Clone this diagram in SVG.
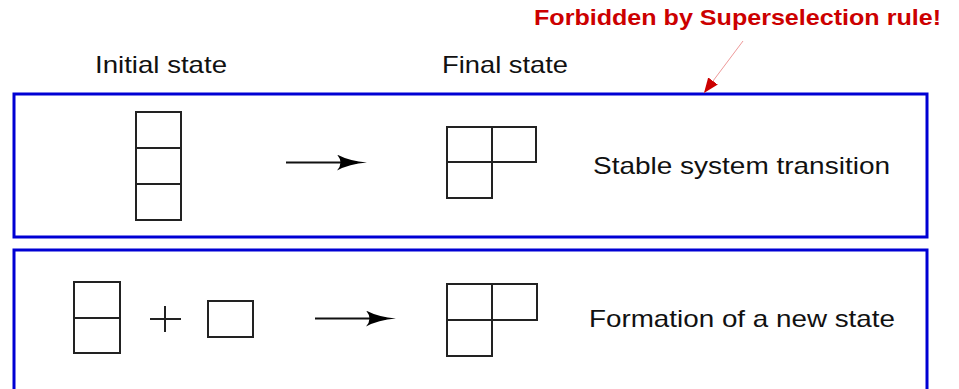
<svg xmlns="http://www.w3.org/2000/svg" width="959" height="389" viewBox="0 0 959 389">
  <style>
    .panel { fill: none; stroke: #0000d4; stroke-width: 3; }
    .cell { fill: none; stroke: #222; stroke-width: 2; }
    .label { font-family: "Liberation Sans", Arial, sans-serif; font-size: 24px; fill: #111; }
    .note { font-family: "Liberation Sans", Arial, sans-serif; font-size: 22px; font-weight: bold; fill: #cc0000; }
    .flow { stroke: #111; stroke-width: 2; fill: none; }
    .pointer { stroke: #e99; stroke-width: 1; fill: none; }
  </style>
  <defs>
    <marker id="stealth" viewBox="0 0 30 16" refX="20" refY="8" markerWidth="30" markerHeight="16" markerUnits="userSpaceOnUse" orient="auto">
      <path d="M0,0 Q12,6.5 30,8 Q12,9.5 0,16 Q7,8 0,0 Z" fill="#000"/>
    </marker>
    <marker id="redhead" viewBox="0 0 15 12" refX="15" refY="6" markerWidth="15" markerHeight="12" markerUnits="userSpaceOnUse" orient="auto">
      <path d="M0,0 L15,6 L0,12 Z" fill="#cc0000"/>
    </marker>
  </defs>

  <!-- column headings -->
  <text class="label" x="95" y="73" textLength="132" lengthAdjust="spacingAndGlyphs">Initial state</text>
  <text class="label" x="442" y="73" textLength="126" lengthAdjust="spacingAndGlyphs">Final state</text>
  <text class="note" x="534" y="25" textLength="407" lengthAdjust="spacingAndGlyphs">Forbidden by Superselection rule!</text>

  <!-- upper panel: stable system -->
  <g id="panel-stable">
    <rect class="panel" x="14" y="94" width="913" height="143"/>
    <text class="label" x="593" y="174" textLength="297" lengthAdjust="spacingAndGlyphs">Stable system transition</text>
  </g>
  <g id="stable-initial">
    <rect class="cell" x="136" y="112" width="45" height="108"/>
    <line class="cell" x1="136" y1="148" x2="181" y2="148"/>
    <line class="cell" x1="136" y1="184" x2="181" y2="184"/>
  </g>
  <g id="stable-final">
    <path class="cell" d="M447,127 H536 V162 H492 V198 H447 Z"/>
    <line class="cell" x1="492" y1="127" x2="492" y2="162"/>
    <line class="cell" x1="447" y1="162" x2="492" y2="162"/>
  </g>

  <!-- lower panel: formation of a new state -->
  <g id="panel-formation">
    <rect class="panel" x="14" y="250" width="913" height="160"/>
    <text class="label" x="589" y="327" textLength="306" lengthAdjust="spacingAndGlyphs">Formation of a new state</text>
  </g>
  <g id="formation-pair">
    <rect class="cell" x="74" y="282" width="46" height="71"/>
    <line class="cell" x1="74" y1="318" x2="120" y2="318"/>
  </g>
  <g id="formation-plus">
    <line class="cell" x1="150" y1="319" x2="181" y2="319"/>
    <line class="cell" x1="165" y1="306" x2="165" y2="332"/>
  </g>
  <g id="formation-single">
    <rect class="cell" x="208" y="301" width="45" height="36"/>
  </g>
  <g id="formation-final">
    <path class="cell" d="M447,284 H537 V320 H492 V356 H447 Z"/>
    <line class="cell" x1="492" y1="284" x2="492" y2="320"/>
    <line class="cell" x1="447" y1="320" x2="492" y2="320"/>
  </g>

  <!-- connectors -->
  <g id="connectors">
    <line class="flow" x1="286" y1="162.5" x2="357" y2="162.5" marker-end="url(#stealth)"/>
    <line class="flow" x1="315" y1="318.5" x2="386" y2="318.5" marker-end="url(#stealth)"/>
    <line class="pointer" x1="743" y1="41" x2="704" y2="93" marker-end="url(#redhead)"/>
  </g>
</svg>
